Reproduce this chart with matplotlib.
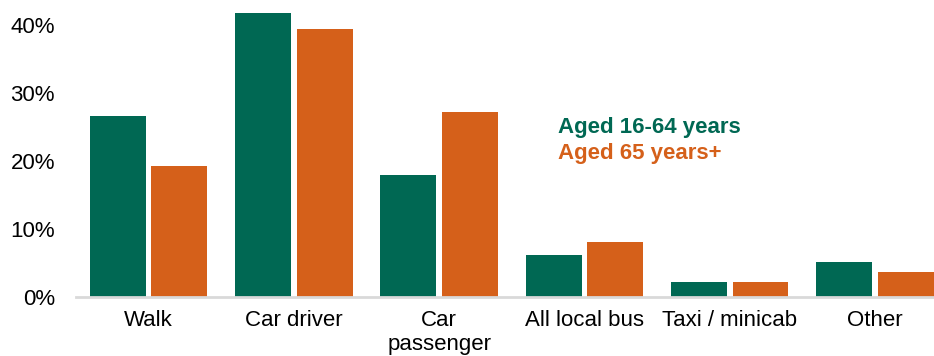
import matplotlib.pyplot as plt
import numpy as np
from matplotlib.ticker import FuncFormatter

plt.rcParams['font.family'] = ['Liberation Sans', 'DejaVu Sans']

modes = ['Walk', 'Car driver', 'Car\npassenger', 'All local bus', 'Taxi / minicab', 'Other']
aged_16_64 = [26.6, 41.8, 17.9, 6.2, 2.2, 5.1]
aged_65_plus = [19.3, 39.4, 27.2, 8.1, 2.2, 3.7]
yticks = [0, 10, 20, 30, 40]

green = '#006853'
orange = '#D5601A'

W, H = 934, 356
fig = plt.figure(figsize=(W / 100, H / 100), dpi=100)

# axes placed in pixels: 0% sits at y=297, 6.8 px per percent, groups 145.3 px apart
ytop = 45
x0 = 148.5 - 0.5 * 145.3
x1 = 148.5 + 5.5 * 145.3
ax = fig.add_axes([x0 / W, (H - 297) / H, (x1 - x0) / W, ytop * 6.8 / H])

x = np.arange(len(modes))
bw = 0.385
ax.bar(x - 0.212, aged_16_64, bw, color=green)
ax.bar(x + 0.212, aged_65_plus, bw, color=orange)

ax.set_xlim(-0.5, 5.5)
ax.set_ylim(0, ytop)
ax.set_yticks(yticks)
ax.yaxis.set_major_formatter(FuncFormatter(lambda v, p: f'{v:.0f}%'))
ax.set_xticks(x)
ax.set_xticklabels(modes, linespacing=1.2)
ax.tick_params(axis='both', length=0, labelsize=16, colors='black')
ax.tick_params(axis='y', pad=15)
ax.tick_params(axis='x', pad=9)

for s in ['top', 'right', 'left']:
    ax.spines[s].set_visible(False)
ax.spines['bottom'].set_color('#D9D9D9')
ax.spines['bottom'].set_linewidth(2)

ax.text(558 / W, 1 - 128 / H, 'Aged 16-64 years', transform=fig.transFigure,
        color=green, fontsize=16, fontweight='bold', va='center', ha='left')
ax.text(558 / W, 1 - 153 / H, 'Aged 65 years+', transform=fig.transFigure,
        color=orange, fontsize=16, fontweight='bold', va='center', ha='left')

fig.savefig('out.png', dpi=100)
